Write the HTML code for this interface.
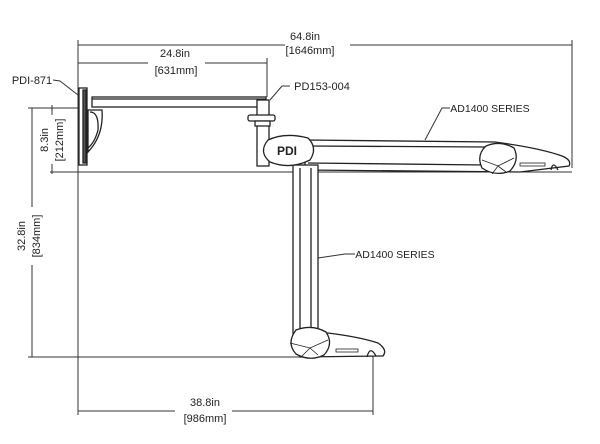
<!DOCTYPE html>
<html><head><meta charset="utf-8"><style>
html,body{margin:0;padding:0;background:#fff;}
svg{display:block;font-family:"Liberation Sans",sans-serif;}
</style></head><body>
<svg width="600" height="444" viewBox="0 0 600 444" xmlns="http://www.w3.org/2000/svg">
<rect width="600" height="444" fill="#fff"/>
<g stroke="#333" stroke-width="1" fill="none">
<line x1="78" y1="40" x2="78" y2="415"/>
<line x1="572" y1="40" x2="572" y2="168"/>
<line x1="267" y1="58" x2="267" y2="97"/>
<line x1="373" y1="345" x2="373" y2="415"/>
<line x1="78" y1="45" x2="285" y2="45"/><line x1="350" y1="45" x2="572" y2="45"/>
<line x1="78" y1="63" x2="148" y2="63"/><line x1="205" y1="63" x2="267" y2="63"/>
<line x1="78" y1="411" x2="175" y2="411"/><line x1="232" y1="411" x2="373" y2="411"/>
<line x1="28" y1="108" x2="80" y2="108"/>
<line x1="50" y1="172" x2="572" y2="172"/>
<line x1="28" y1="357" x2="300" y2="357"/>
<line x1="32" y1="108" x2="32" y2="207"/><line x1="32" y1="265" x2="32" y2="357"/>
<line x1="52" y1="105" x2="52" y2="115"/><line x1="52" y1="164" x2="52" y2="174"/>
<polyline points="53,80 60,81 78,95"/>
<polyline points="290,86 282,86 270,100"/>
<polyline points="450,108 442,108 425,140"/>
<polyline points="355,254 345,254 318,258"/>
</g>
<g stroke="#222" stroke-width="1.3" fill="#fff">
<rect x="79" y="88" width="8" height="77"/>
<rect x="83" y="90" width="3" height="73" fill="#555"/>
<path d="M88,110 L102,110 Q104,135 88,152 Z"/>
<path d="M90,112 Q99,112 98,130 Q95,142 88,148" fill="none"/>
<rect x="92" y="97" width="174" height="10"/>
<line x1="92" y1="99" x2="266" y2="99"/>
<rect x="257" y="100" width="12" height="66"/>
<rect x="248" y="115" width="27" height="6" rx="2"/>
<rect x="255" y="121" width="15" height="5"/>
<path d="M305,140 L495,142 Q540,148 562,156 Q572,160 569,166 L520,172 L305,170 Z"/>
<line x1="308" y1="146" x2="485" y2="147"/>
<line x1="308" y1="163" x2="485" y2="165"/>
<path d="M486,146 Q500,140 514,148 Q520,160 510,171 Q495,177 482,168 Q476,155 486,146 Z"/>
<path d="M482,160 L498,166 L514,158 M498,166 L492,174 M498,166 L506,172" fill="none" stroke-width="0.8"/>
<rect x="520" y="163" width="25" height="3" fill="none" stroke-width="0.8"/>
<path d="M551,170 Q553,160 558,170" fill="none"/>
<rect x="293" y="165" width="25" height="170"/>
<line x1="300" y1="168" x2="300" y2="333"/>
<line x1="311" y1="168" x2="311" y2="333"/>
<path d="M300,333 L328,333 Q360,337 378,343 Q388,350 383,356 L300,357 Z"/>
<path d="M296,330 Q312,324 326,332 Q334,344 324,355 Q310,362 296,354 Q286,343 296,330 Z"/>
<path d="M290,343 L310,348 L328,340 M310,348 L302,356 M310,348 L318,355" fill="none" stroke-width="0.8"/>
<rect x="336" y="349" width="22" height="3" fill="none" stroke-width="0.8"/>
<path d="M367,357 Q370,345 376,356" fill="none"/>
<path d="M268,140 Q285,132 308,138 Q318,148 310,160 Q290,170 270,162 Q258,152 268,140 Z"/>
</g>
<g fill="#222" font-size="11" text-anchor="middle">
<text x="305" y="40">64.8in</text>
<text x="310" y="54">[1646mm]</text>
<text x="175" y="57">24.8in</text>
<text x="176" y="74">[631mm]</text>
<text x="205" y="406">38.8in</text>
<text x="205" y="422">[986mm]</text>
<text x="287" y="155" font-size="12" font-weight="bold">PDI</text>
<text x="32" y="84" text-anchor="middle">PDI-871</text>
<text x="322" y="90">PD153-004</text>
<text x="490" y="112" font-size="10.5">AD1400 SERIES</text>
<text x="395" y="258" font-size="10.5">AD1400 SERIES</text>
<text transform="translate(48,140) rotate(-90)">8.3in</text>
<text transform="translate(63,140) rotate(-90)">[212mm]</text>
<text transform="translate(25,236) rotate(-90)">32.8in</text>
<text transform="translate(40,236) rotate(-90)">[834mm]</text>
</g>
</svg>
</body></html>
